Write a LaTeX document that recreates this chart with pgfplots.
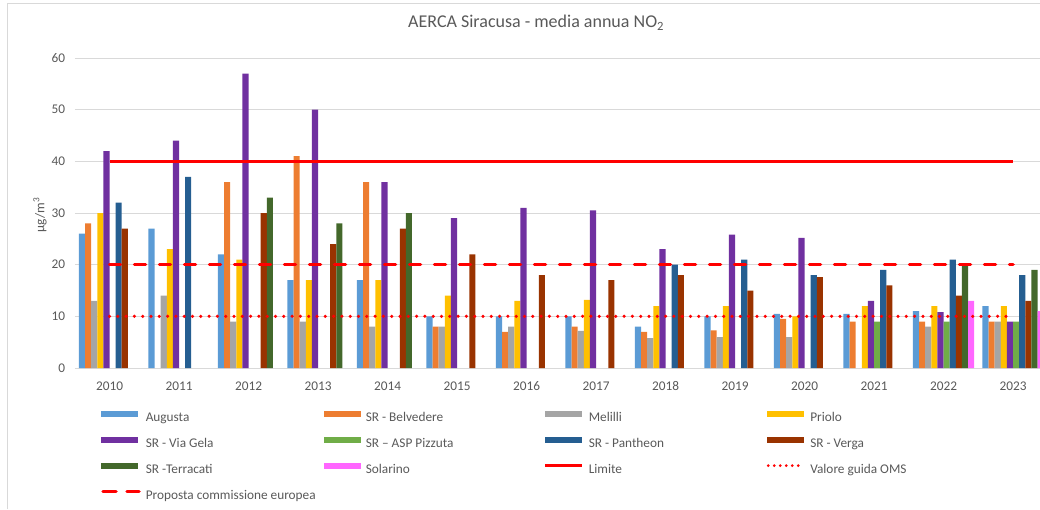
\documentclass[border=0pt]{standalone}
\usepackage{pgfplots}
\pgfplotsset{compat=1.18}
\usepackage{pgfplotstable}
\usepackage{fontspec}
\setmainfont{Carlito}
\definecolor{cAug}{HTML}{5B9BD5}
\definecolor{cBel}{HTML}{ED7D31}
\definecolor{cMel}{HTML}{A5A5A5}
\definecolor{cPri}{HTML}{FFC000}
\definecolor{cVG}{HTML}{7030A0}
\definecolor{cASP}{HTML}{70AD47}
\definecolor{cPan}{HTML}{255E91}
\definecolor{cVer}{HTML}{993300}
\definecolor{cTer}{HTML}{43682B}
\definecolor{cSol}{HTML}{FF66FF}
\definecolor{gridc}{HTML}{D9D9D9}
\definecolor{txtc}{HTML}{595959}
\definecolor{limc}{HTML}{FF0000}

\pgfplotstableread{
x  Aug  Bel  Mel  Pri  VG   ASP  Pan  Ver  Ter  Sol
0  26   28   13   30   42   nan  32   27   nan  nan
1  27   nan  14   23   44   nan  37   nan  nan  nan
2  22   36   9    21   57   nan  nan  30   33   nan
3  17   41   9    17   50   nan  nan  24   28   nan
4  17   36   8    17   36   nan  nan  27   30   nan
5  10   8    8    14   29   nan  nan  22   nan  nan
6  10   7    8    13   31   nan  nan  18   nan  nan
7  10   8    7.2  13.2 30.5 nan  nan  17   nan  nan
8  8    7    5.8  12   23   nan  20   18   nan  nan
9  10   7.3  6    12   25.8 nan  21   15   nan  nan
10 10.5 9.5  6    10   25.2 nan  18   17.6 nan  nan
11 10.5 9    nan  12   13   9    19   16   nan  nan
12 11   9    8    12   10.8 9    21   14   20   13
13 12   9    9    12   9    9    18   13   19   11
}\data

\pgfplotsset{
  barsty/.style={ybar, bar width=0.088, draw=none, fill=#1,
    legend image code/.code={\fill[#1] (0pt,1.3pt) rectangle (37pt,7.3pt);}},
}

\begin{document}
\begin{tikzpicture}
\path[use as bounding box] (0pt,0pt) rectangle (1040pt,509pt);
\draw[gridc, line width=0.75pt] (7pt,0pt) -- (7pt,506pt) -- (1040pt,506pt);
\begin{axis}[
  at={(74.75pt,141pt)}, anchor=south west,
  scale only axis, width=965.25pt, height=310pt,
  xmin=-0.5, xmax=13.388, ymin=0, ymax=60,
  ytick={0,10,20,30,40,50,60},
  xtick={0,1,2,3,4,5,6,7,8,9,10,11,12,13},
  xticklabels={2010,2011,2012,2013,2014,2015,2016,2017,2018,2019,2020,2021,2022,2023},
  axis line style={draw=none},
  major tick length=0pt,
  ymajorgrids, grid style={draw=gridc, line width=0.75pt},
  tick label style={font=\fontsize{13.3}{16}\selectfont, text=txtc},
  /pgf/number format/assume math mode=true,
  xticklabel style={yshift=-10pt},
  yticklabel style={xshift=-6pt},
  ylabel={µg/m\textsuperscript{3}},
  ylabel style={at={(axis description cs:-0.036,0.494)}, anchor=center, font=\fontsize{13.3}{16}\selectfont, text=txtc},
  title={AERCA Siracusa - media annua NO\textsubscript{2}},
  title style={at={(axis description cs:0.478,1.094)}, anchor=center, font=\fontsize{18}{22}\selectfont, text=txtc},
  legend columns=4,
  legend cell align=left,
  legend style={at={(axis description cs:0.0272,-0.1194)}, anchor=north west,
    draw=none, fill=none, inner sep=0pt, outer sep=0pt,
    nodes={inner sep=0pt, minimum height=26pt, font=\fontsize{13.3}{16}\selectfont, text=txtc}},
]
\addplot[barsty=cAug, bar shift=-0.396] table[x=x,y=Aug]{\data};
\addlegendentry{\makebox[183pt][l]{\hspace{5pt}Augusta}}
\addplot[barsty=cBel, bar shift=-0.308] table[x=x,y=Bel]{\data};
\addlegendentry{\makebox[183pt][l]{\hspace{5pt}SR - Belvedere}}
\addplot[barsty=cMel, bar shift=-0.220] table[x=x,y=Mel]{\data};
\addlegendentry{\makebox[183pt][l]{\hspace{5pt}Melilli}}
\addplot[barsty=cPri, bar shift=-0.132] table[x=x,y=Pri]{\data};
\addlegendentry{\makebox[183pt][l]{\hspace{5pt}Priolo}}
\addplot[barsty=cVG, bar shift=-0.044] table[x=x,y=VG]{\data};
\addlegendentry{\makebox[183pt][l]{\hspace{5pt}SR - Via Gela}}
\addplot[barsty=cASP, bar shift=0.044] table[x=x,y=ASP]{\data};
\addlegendentry{\makebox[183pt][l]{\hspace{5pt}SR – ASP Pizzuta}}
\addplot[barsty=cPan, bar shift=0.132] table[x=x,y=Pan]{\data};
\addlegendentry{\makebox[183pt][l]{\hspace{5pt}SR - Pantheon}}
\addplot[barsty=cVer, bar shift=0.220] table[x=x,y=Ver]{\data};
\addlegendentry{\makebox[183pt][l]{\hspace{5pt}SR - Verga}}
\addplot[barsty=cTer, bar shift=0.308] table[x=x,y=Ter]{\data};
\addlegendentry{\makebox[183pt][l]{\hspace{5pt}SR -Terracati}}
\addplot[barsty=cSol, bar shift=0.396] table[x=x,y=Sol]{\data};
\addlegendentry{\makebox[183pt][l]{\hspace{5pt}Solarino}}
\addplot[sharp plot, draw=limc, line width=3pt, mark=none,
  legend image code/.code={\draw[limc, line width=3pt] (0pt,4.3pt)--(37pt,4.3pt);}]
  coordinates {(0,40) (13,40)};
\addlegendentry{\makebox[183pt][l]{\hspace{5pt}Limite}}
\addplot[sharp plot, draw=limc, line width=3.5pt, mark=none, line cap=round, dash pattern=on 0pt off 8.3pt,
  legend image code/.code={\draw[limc, line width=3pt, line cap=round, dash pattern=on 0pt off 6pt] (1.5pt,4.3pt)--(37pt,4.3pt);}]
  coordinates {(0,10) (13,10)};
\addlegendentry{\makebox[183pt][l]{\hspace{5pt}Valore guida OMS}}
\addplot[sharp plot, draw=limc, line width=3.5pt, mark=none, line cap=round, dash pattern=on 11pt off 14pt,
  legend image code/.code={\draw[limc, line width=3.5pt, line cap=round, dash pattern=on 13pt off 11pt] (2pt,4.3pt)--(38pt,4.3pt);}]
  coordinates {(0,20) (13,20)};
\addlegendentry{\makebox[183pt][l]{\hspace{5pt}Proposta commissione europea}}
\end{axis}
\end{tikzpicture}
\end{document}
